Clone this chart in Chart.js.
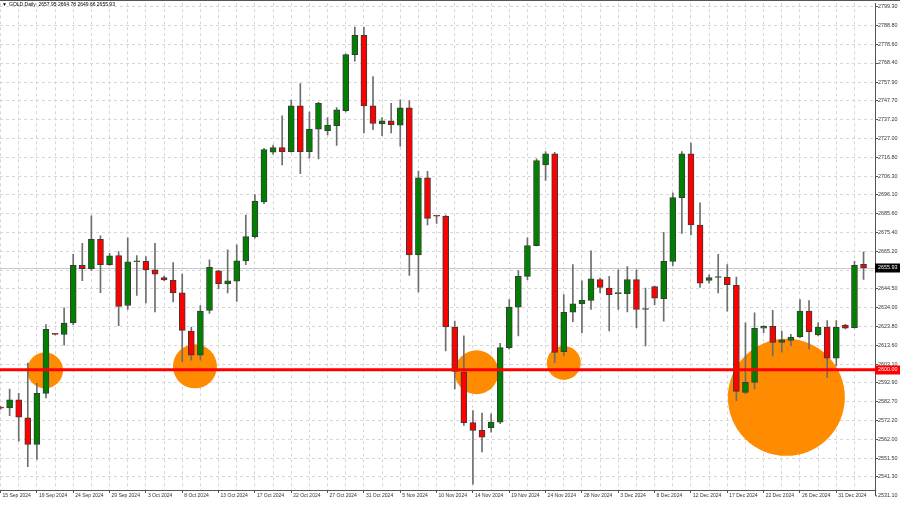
<!DOCTYPE html>
<html>
<head>
<meta charset="utf-8">
<script src="https://cdn.jsdelivr.net/npm/chart.js@4.4.1/dist/chart.umd.min.js"></script>
<style>
  html, body { margin: 0; padding: 0; background: #fff; }
</style>
</head>
<body>
<canvas id="goldChart" width="900" height="508"></canvas>
<script>
const symbol = 'GOLD,Daily';

const dates = [
  '15 Sep 2024', '16 Sep 2024', '17 Sep 2024', '18 Sep 2024', '19 Sep 2024', '20 Sep 2024',
  '22 Sep 2024', '23 Sep 2024', '24 Sep 2024', '25 Sep 2024', '26 Sep 2024', '27 Sep 2024',
  '29 Sep 2024', '30 Sep 2024', '1 Oct 2024', '2 Oct 2024', '3 Oct 2024', '4 Oct 2024',
  '6 Oct 2024', '7 Oct 2024', '8 Oct 2024', '9 Oct 2024', '10 Oct 2024', '11 Oct 2024',
  '13 Oct 2024', '14 Oct 2024', '15 Oct 2024', '16 Oct 2024', '17 Oct 2024', '18 Oct 2024',
  '20 Oct 2024', '21 Oct 2024', '22 Oct 2024', '23 Oct 2024', '24 Oct 2024', '25 Oct 2024',
  '27 Oct 2024', '28 Oct 2024', '29 Oct 2024', '30 Oct 2024', '31 Oct 2024', '1 Nov 2024',
  '3 Nov 2024', '4 Nov 2024', '5 Nov 2024', '6 Nov 2024', '7 Nov 2024', '8 Nov 2024',
  '10 Nov 2024', '11 Nov 2024', '12 Nov 2024', '13 Nov 2024', '14 Nov 2024', '15 Nov 2024',
  '17 Nov 2024', '18 Nov 2024', '19 Nov 2024', '20 Nov 2024', '21 Nov 2024', '22 Nov 2024',
  '24 Nov 2024', '25 Nov 2024', '26 Nov 2024', '27 Nov 2024', '28 Nov 2024', '29 Nov 2024',
  '1 Dec 2024', '2 Dec 2024', '3 Dec 2024', '4 Dec 2024', '5 Dec 2024', '6 Dec 2024',
  '8 Dec 2024', '9 Dec 2024', '10 Dec 2024', '11 Dec 2024', '12 Dec 2024', '13 Dec 2024',
  '15 Dec 2024', '16 Dec 2024', '17 Dec 2024', '18 Dec 2024', '19 Dec 2024', '20 Dec 2024',
  '22 Dec 2024', '23 Dec 2024', '24 Dec 2024', '25 Dec 2024', '26 Dec 2024', '27 Dec 2024',
  '29 Dec 2024', '30 Dec 2024', '31 Dec 2024', '1 Jan 2025', '2 Jan 2025', '3 Jan 2025'
];

const opens = [
  2579.3, 2579.1, 2583.5, 2573.7, 2559.1, 2587.1, 2619.6, 2619.5, 2625.8, 2657.3, 2655.5, 2671.6,
  2657.7, 2662.7, 2635.3, 2659.3, 2659.5, 2654.9, 2650.7, 2649.3, 2642.2, 2621.3, 2608.0, 2632.6,
  2654.4, 2647.1, 2648.6, 2659.8, 2673.1, 2692.2, 2719.4, 2722.0, 2719.8, 2744.9, 2719.8, 2732.1,
  2731.3, 2734.0, 2742.2, 2773.0, 2783.6, 2744.9, 2734.9, 2736.7, 2734.3, 2743.8, 2663.1, 2705.4,
  2684.4, 2684.2, 2623.5, 2598.9, 2571.0, 2566.8, 2568.2, 2571.3, 2612.2, 2634.4, 2651.3, 2668.2,
  2712.5, 2718.5, 2610.0, 2631.6, 2636.2, 2638.1, 2649.5, 2644.9, 2641.8, 2641.8, 2649.5, 2633.1,
  2645.7, 2639.1, 2659.5, 2694.5, 2718.5, 2679.5, 2649.1, 2650.7, 2650.9, 2646.4, 2587.6, 2593.1,
  2622.8, 2623.9, 2615.1, 2616.2, 2618.0, 2632.2, 2619.1, 2623.5, 2606.4, 2624.6, 2623.1, 2657.95
];
const highs = [
  2580.0, 2589.5, 2587.1, 2603.7, 2592.6, 2624.9, 2620.0, 2634.0, 2663.4, 2669.4, 2684.5, 2673.6,
  2664.0, 2664.9, 2672.5, 2662.7, 2662.2, 2669.4, 2651.4, 2658.9, 2652.5, 2623.5, 2635.3, 2660.4,
  2654.6, 2665.8, 2668.6, 2684.9, 2696.2, 2721.6, 2723.4, 2739.4, 2748.0, 2757.1, 2741.6, 2746.8,
  2738.5, 2744.0, 2773.5, 2788.1, 2788.1, 2760.9, 2738.5, 2746.3, 2748.2, 2747.6, 2709.1, 2709.0,
  2684.6, 2684.9, 2626.7, 2618.6, 2577.7, 2576.2, 2575.9, 2614.6, 2638.6, 2654.5, 2672.5, 2715.8,
  2719.8, 2719.4, 2641.3, 2657.7, 2648.9, 2665.3, 2650.4, 2651.3, 2654.9, 2656.7, 2654.9, 2644.9,
  2646.0, 2675.4, 2697.1, 2719.8, 2724.5, 2691.6, 2652.2, 2663.4, 2657.7, 2650.9, 2625.8, 2631.3,
  2624.2, 2632.6, 2621.3, 2619.5, 2638.6, 2638.0, 2625.8, 2627.1, 2627.1, 2625.0, 2659.5, 2664.78
];
const lows = [
  2578.3, 2574.9, 2560.9, 2546.8, 2550.8, 2584.6, 2619.2, 2613.5, 2624.6, 2648.9, 2654.6, 2642.4,
  2657.3, 2624.2, 2633.1, 2640.8, 2636.7, 2631.8, 2648.9, 2637.3, 2604.4, 2605.3, 2605.3, 2630.9,
  2644.4, 2642.2, 2637.6, 2657.7, 2672.2, 2691.2, 2718.3, 2712.5, 2719.4, 2707.6, 2716.2, 2715.8,
  2728.9, 2723.1, 2741.6, 2769.4, 2730.0, 2731.8, 2728.5, 2730.0, 2722.7, 2651.8, 2642.7, 2679.5,
  2680.3, 2610.4, 2589.5, 2569.5, 2537.3, 2554.9, 2565.8, 2570.4, 2611.3, 2618.6, 2649.5, 2668.0,
  2704.0, 2604.0, 2607.7, 2626.4, 2620.4, 2633.1, 2642.2, 2621.3, 2633.1, 2631.8, 2623.1, 2613.1,
  2635.8, 2626.7, 2657.1, 2674.9, 2674.0, 2645.3, 2647.6, 2642.2, 2632.2, 2583.1, 2586.8, 2589.5,
  2620.4, 2607.7, 2609.7, 2613.1, 2617.6, 2611.3, 2618.6, 2595.8, 2602.2, 2622.5, 2622.8, 2649.66
];
const closes = [
  2579.0, 2583.5, 2574.0, 2559.1, 2587.1, 2622.2, 2619.5, 2625.7, 2657.3, 2655.5, 2671.6, 2657.7,
  2662.6, 2634.8, 2659.3, 2659.4, 2654.9, 2652.5, 2649.3, 2642.2, 2621.7, 2608.0, 2632.2, 2656.2,
  2647.3, 2648.9, 2659.8, 2673.1, 2692.6, 2720.9, 2722.0, 2719.8, 2744.9, 2719.8, 2732.1, 2746.3,
  2734.3, 2742.7, 2773.0, 2783.6, 2744.9, 2735.2, 2736.7, 2734.5, 2743.8, 2663.1, 2705.4, 2683.1,
  2684.3, 2623.5, 2599.1, 2571.0, 2566.8, 2563.1, 2571.3, 2612.2, 2634.4, 2651.3, 2668.2, 2714.9,
  2718.5, 2609.5, 2631.6, 2636.2, 2638.2, 2650.0, 2645.3, 2641.3, 2641.9, 2649.5, 2633.1, 2633.2,
  2639.4, 2659.5, 2694.5, 2718.5, 2679.5, 2647.6, 2650.7, 2650.8, 2646.8, 2588.2, 2593.1, 2622.8,
  2624.0, 2615.1, 2616.5, 2618.0, 2632.2, 2620.9, 2623.5, 2606.4, 2623.5, 2622.8, 2657.3, 2655.93
];

const yTickLabels = [
  '2531.10', '2541.30', '2551.50', '2562.00', '2572.20', '2582.70', '2592.90', '2603.10',
  '2613.60', '2623.80', '2634.00', '2644.50', '2654.70', '2665.20', '2675.40', '2685.60',
  '2696.10', '2706.30', '2716.80', '2727.00', '2737.20', '2747.70', '2757.90', '2768.40',
  '2778.60', '2788.80', '2799.30'
];

// horizontal level and the highlighted zones (bar index, price, radius)
const levelPrice = 2600.00;
const circleX = [4.9, 21.4, 52.4, 62.0, 86.5];
const circleY = [2599.7, 2601.9, 2598.7, 2603.8, 2584.9];
const circleR = [18, 22, 22, 17, 58.5];

const UP = '#008000';
const DOWN = '#ff0000';
const FONT = '"Liberation Sans", Arial, sans-serif';

const last = closes.length - 1;
const yMin = 2534.05;
const yMax = 2801.2;

const decor = {
  id: 'decor',
  beforeDatasetsDraw(chart) {
    const { ctx, chartArea: a, scales: { y } } = chart;
    const py = Math.round(y.getPixelForValue(closes[last])) + 0.5;
    ctx.save();
    ctx.strokeStyle = '#c8c8c8';
    ctx.lineWidth = 1;
    ctx.beginPath();
    ctx.moveTo(a.left, py);
    ctx.lineTo(a.right, py);
    ctx.stroke();
    ctx.restore();
  },
  afterDatasetsDraw(chart) {
    const { ctx, chartArea: a, scales: { y } } = chart;
    const py = y.getPixelForValue(levelPrice);
    ctx.save();
    ctx.strokeStyle = '#ff0000';
    ctx.lineWidth = 3;
    ctx.beginPath();
    ctx.moveTo(a.left, py);
    ctx.lineTo(a.right, py);
    ctx.stroke();
    ctx.restore();
  },
  afterDraw(chart) {
    const { ctx, chartArea: a, scales: { y }, width } = chart;
    ctx.save();
    // top frame line
    ctx.strokeStyle = '#555';
    ctx.lineWidth = 1;
    ctx.beginPath();
    ctx.moveTo(0, 0.5);
    ctx.lineTo(width, 0.5);
    ctx.stroke();

    ctx.font = '5.4px ' + FONT;
    ctx.textBaseline = 'middle';
    ctx.textAlign = 'left';

    // price labels below the visible range
    yTickLabels.filter(t => parseFloat(t) < yMin).forEach(t => {
      const py = y.getPixelForValue(parseFloat(t));
      ctx.fillStyle = '#333';
      ctx.fillText(t, a.right + 3, py);
      ctx.strokeStyle = '#444';
      ctx.beginPath();
      ctx.moveTo(a.right + 0.5, a.bottom);
      ctx.lineTo(a.right + 0.5, py + 0.5);
      ctx.lineTo(a.right + 2, py + 0.5);
      ctx.stroke();
    });

    const box = (price, bg) => {
      const py = y.getPixelForValue(price);
      ctx.fillStyle = bg;
      ctx.fillRect(a.right, Math.round(py) - 4.5, width - a.right, 9);
      ctx.fillStyle = '#fff';
      ctx.fillText(price.toFixed(2), a.right + 3, py);
    };
    box(levelPrice, '#ff0000');
    box(closes[last], '#000');

    // symbol header
    ctx.fillStyle = '#000';
    ctx.font = '5px ' + FONT;
    const head = symbol + '  ' + [opens[last], highs[last], lows[last], closes[last]].map(v => v.toFixed(2)).join(' ');
    ctx.fillText('\u25BC', 2, 5);
    ctx.fillText(head, 9, 5);
    ctx.restore();
  }
};

const ctx = document.getElementById('goldChart').getContext('2d');

new Chart(ctx, {
  type: 'bar',
  data: {
    datasets: [
      {
        type: 'bubble',
        data: circleX.map((x, i) => ({ x, y: circleY[i], r: circleR[i] })),
        backgroundColor: '#ff8c00',
        borderWidth: 0,
        hoverRadius: 0,
        order: 10
      },
      {
        label: 'wick',
        data: dates.map((d, i) => ({ x: i, y: [lows[i], highs[i]] })),
        backgroundColor: '#6e6e6e',
        barThickness: 1,
        grouped: false,
        order: 2
      },
      {
        label: 'body',
        data: dates.map((d, i) => ({ x: i, y: [opens[i], closes[i]] })),
        backgroundColor: closes.map((c, i) => (c >= opens[i] ? UP : DOWN)),
        borderColor: '#3a3a3a',
        borderWidth: 1,
        borderSkipped: false,
        barThickness: 6,
        minBarLength: 1,
        grouped: false,
        order: 1
      }
    ]
  },
  options: {
    responsive: false,
    animation: false,
    events: [],
    layout: { padding: 0, autoPadding: false },
    plugins: {
      legend: { display: false },
      tooltip: { enabled: false }
    },
    scales: {
      x: {
        type: 'linear',
        min: -0.06,
        max: 96.26,
        offset: false,
        afterBuildTicks: scale => {
          scale.ticks = dates.map((d, i) => i).filter(i => i % 2 === 0).map(v => ({ value: v }));
        },
        afterFit: scale => { scale.height = 18; },
        grid: {
          offset: false,
          color: '#d6d6d6',
          tickLength: 3,
          tickColor: c => (c.tick && c.tick.value % 4 === 0 ? '#555' : 'rgba(0,0,0,0)')
        },
        border: { color: '#555', dash: [3, 3] },
        ticks: {
          autoSkip: false,
          maxRotation: 0,
          align: 'start',
          labelOffset: 2,
          padding: 0,
          color: '#333',
          font: { family: FONT, size: 5 },
          callback: v => (v % 4 === 0 ? dates[v] : '')
        }
      },
      y: {
        position: 'right',
        min: yMin,
        max: yMax,
        beginAtZero: false,
        afterBuildTicks: scale => {
          scale.ticks = yTickLabels.map(t => ({ value: parseFloat(t) })).filter(t => t.value >= yMin && t.value <= yMax);
        },
        afterFit: scale => { scale.width = 25; },
        grid: {
          color: '#d6d6d6',
          tickLength: 3,
          tickColor: '#555'
        },
        border: { color: '#555', dash: [3, 3] },
        ticks: {
          padding: 0,
          color: '#333',
          font: { family: FONT, size: 5.4 },
          callback: v => v.toFixed(2)
        }
      }
    }
  },
  plugins: [decor]
});
</script>
</body>
</html>
